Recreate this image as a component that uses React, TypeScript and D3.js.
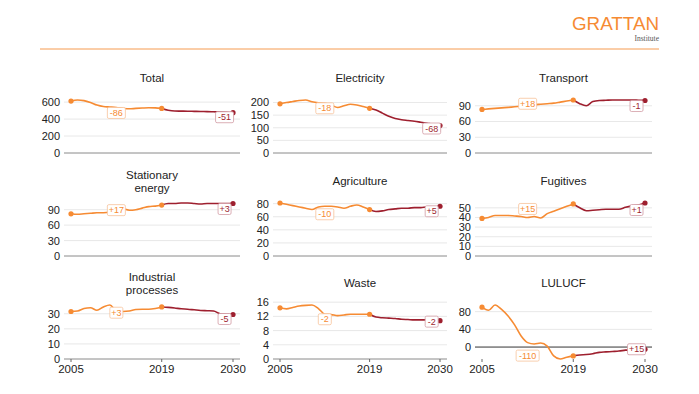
import React from "react";
import * as d3 from "d3";

const width = 699;
const height = 394;

// years 2005..2030, history to 2019, projections after
const years = d3.range(2005, 2031);
const splitYear = 2019;
const yearTicks = [2005, 2019, 2030];

const titles = [
  ["Total"],
  ["Electricity"],
  ["Transport"],
  ["Stationary", "energy"],
  ["Agriculture"],
  ["Fugitives"],
  ["Industrial", "processes"],
  ["Waste"],
  ["LULUCF"],
];

// Mt CO2e, 2005..2030
const total = [612, 625, 618, 596, 565, 548, 543, 537, 527, 521, 526, 530, 533, 532, 526,
  505, 495, 494, 493, 491, 489, 488, 486, 484, 481, 475];
const electricity = [195, 200, 204, 208, 210, 203, 199, 197, 190, 180, 187, 193, 190, 184, 177,
  170, 158, 146, 137, 132, 129, 126, 122, 118, 114, 109];
const transport = [83, 84, 85, 86, 87, 88, 89, 90, 92, 93, 94, 95, 97, 99, 101,
  94, 90, 98, 100, 100.5, 101, 101, 101, 101, 100.5, 100];
const stationary = [82, 81, 82, 83, 84, 84, 86, 94, 92, 89, 90, 93, 96, 97, 99,
  102, 102, 103, 103, 102, 101, 102, 102, 102, 102, 102];
const agriculture = [81, 79, 77, 75, 73, 71, 75, 76, 76, 75, 73, 76, 78, 75, 71,
  68, 69, 71, 72, 73, 73, 74, 74, 75, 75, 76];
const fugitives = [39, 40, 42, 42, 42, 41.5, 41, 40, 41, 39.5, 44, 46.5, 49, 51.5, 54,
  50, 47, 47.5, 48, 48.5, 48.5, 48.5, 50.5, 52, 53, 55];
const industrial = [31.5, 31.8, 33.5, 34, 32.3, 34.5, 35.8, 32, 31.5, 31.8, 32.8, 33, 33, 33.5, 34.5,
  34.2, 33.8, 33.3, 33, 32.6, 32.2, 32, 31.8, 30, 29.6, 29.5];
const waste = [14.4, 14.1, 14.5, 14.9, 15.1, 15.2, 14.2, 12.6, 12.5, 12.2, 12.4, 12.6, 12.6, 12.6, 12.6,
  11.8, 11.6, 11.5, 11.4, 11.2, 11.1, 11.0, 11.0, 11.0, 10.9, 10.8];
const lulucf = [90, 83, 95, 85, 70, 50, 25, 10, 7, 9, 2, -20, -27, -23, -20,
  -18, -17, -15, -12, -11, -10, -9, -7, -6, -5, -5];

const series = [total, electricity, transport, stationary, agriculture, fugitives, industrial, waste, lulucf];

const yTicks = [
  [0, 200, 400, 600],
  [0, 50, 100, 150, 200],
  [0, 30, 60, 90],
  [0, 30, 60, 90],
  [0, 20, 40, 60, 80],
  [0, 10, 20, 30, 40, 50],
  [0, 10, 20, 30],
  [0, 4, 8, 12, 16],
  [0, 40, 80],
];

const histChange = ["-86", "-18", "+18", "+17", "-10", "+15", "+3", "-2", "-110"];
const projChange = ["-51", "-68", "-1", "+3", "+5", "+1", "-5", "-2", "+15"];

// layout (styling)
const cols = [[71, 233], [280, 440], [482, 645]];
const rows = [[100, 153], [203, 256], [305, 359]];
const histNudge = [5.5, 5, -2, 2.5, 8, -8.5, 2, 5, 13];
const projNudge = [4.5, 3, 5.5, 5.5, 5, 7, 4.5, 1, 0];

const orange = "#F68B33";
const red = "#9E1F2E";
const font = "'Liberation Sans', Arial, Helvetica, sans-serif";

function ChangeLabel({ x, y, text, color, border }: { x: number; y: number; text: string; color: string; border: string }) {
  const w = text.length * 5 + 3;
  return (
    <g transform={`translate(${x},${y})`}>
      <rect x={-w / 2} y={-5.5} width={w} height={11} rx={1.5} fill="white" stroke={border} strokeWidth={0.8} />
      <text textAnchor="middle" dy="0.35em" fontSize={9} fill={color} fontFamily={font}>
        {text}
      </text>
    </g>
  );
}

function Panel({ i }: { i: number }) {
  const [x0, x1] = cols[i % 3];
  const [top, bottom] = rows[Math.floor(i / 3)];
  const data = series[i];
  const lastRow = Math.floor(i / 3) === 2;

  const x = d3.scaleLinear().domain([2005, 2030]).range([x0, x1]);
  const y = d3
    .scaleLinear()
    .domain([Math.min(0, d3.min(data)!), d3.max(data)!])
    .range([bottom, top]);

  const pts = years.map((yr, k) => ({ yr, v: data[k] }));
  const hist = pts.filter((d) => d.yr <= splitYear);
  const proj = pts.filter((d) => d.yr >= splitYear);
  const line = d3
    .line<{ yr: number; v: number }>()
    .x((d) => x(d.yr))
    .y((d) => y(d.v))
    .curve(d3.curveMonotoneX);

  const gx0 = x0 - 7;
  const gx1 = x1 + 7;
  const cx = (x0 + x1) / 2;
  const title = titles[i];
  const isNeg = y.domain()[0] < 0;

  const mid = 2012;
  const midV = data[years.indexOf(mid)];

  return (
    <g>
      {title.map((t, k) => (
        <text
          key={t}
          x={cx}
          y={title.length === 1 ? top - 18 : top - 24 + k * 13}
          textAnchor="middle"
          fontSize={11.5}
          fill="#222"
          fontFamily={font}
        >
          {t}
        </text>
      ))}
      {yTicks[i].map((t) => (
        <g key={t}>
          <line
            x1={gx0}
            x2={gx1}
            y1={y(t)}
            y2={y(t)}
            stroke={t === 0 ? (isNeg ? "#333" : "#8a8a8a") : "#e2e2e2"}
            strokeWidth={t === 0 ? 1 : 0.8}
          />
          <text x={gx0 - 4} y={y(t)} dy="0.36em" textAnchor="end" fontSize={11} fill="#222" fontFamily={font}>
            {t}
          </text>
        </g>
      ))}
      {lastRow &&
        yearTicks.map((yr) => (
          <g key={yr}>
            <line x1={x(yr)} x2={x(yr)} y1={bottom} y2={bottom + 3} stroke="#666" />
            <text x={x(yr)} y={bottom + 14} textAnchor="middle" fontSize={11.5} fill="#222" fontFamily={font}>
              {yr}
            </text>
          </g>
        ))}
      <path d={line(proj)!} fill="none" stroke={red} strokeWidth={1.6} />
      <path d={line(hist)!} fill="none" stroke={orange} strokeWidth={1.6} />
      <circle cx={x(2005)} cy={y(data[0])} r={2.6} fill={orange} />
      <circle cx={x(splitYear)} cy={y(data[years.indexOf(splitYear)])} r={2.6} fill={orange} />
      <circle cx={x(2030)} cy={y(data[data.length - 1])} r={2.6} fill={red} />
      <ChangeLabel x={x(mid)} y={y(midV) + histNudge[i]} text={histChange[i]} color={orange} border="#F8C39A" />
      <ChangeLabel
        x={x(2028.7)}
        y={y(data[data.length - 1]) + projNudge[i]}
        text={projChange[i]}
        color={red}
        border="#D29AA3"
      />
    </g>
  );
}

export default function App() {
  return (
    <div style={{ position: "absolute", left: 0, top: 0 }}>
      <svg width={width} height={height} style={{ display: "block", background: "white" }}>
        <text
          x={659}
          y={30}
          textAnchor="end"
          fontSize={17.5}
          fill={orange}
          fontFamily={font}
          textLength={87}
          lengthAdjust="spacingAndGlyphs"
        >
          GRATTAN
        </text>
        <text x={659} y={41} textAnchor="end" fontSize={7.5} fill="#555" fontFamily="'Liberation Serif', 'DejaVu Serif', serif">
          Institute
        </text>
        <line x1={40} x2={659} y1={49} y2={49} stroke={orange} strokeWidth={1} opacity={0.85} />
        {series.map((_, i) => (
          <Panel key={i} i={i} />
        ))}
      </svg>
    </div>
  );
}
